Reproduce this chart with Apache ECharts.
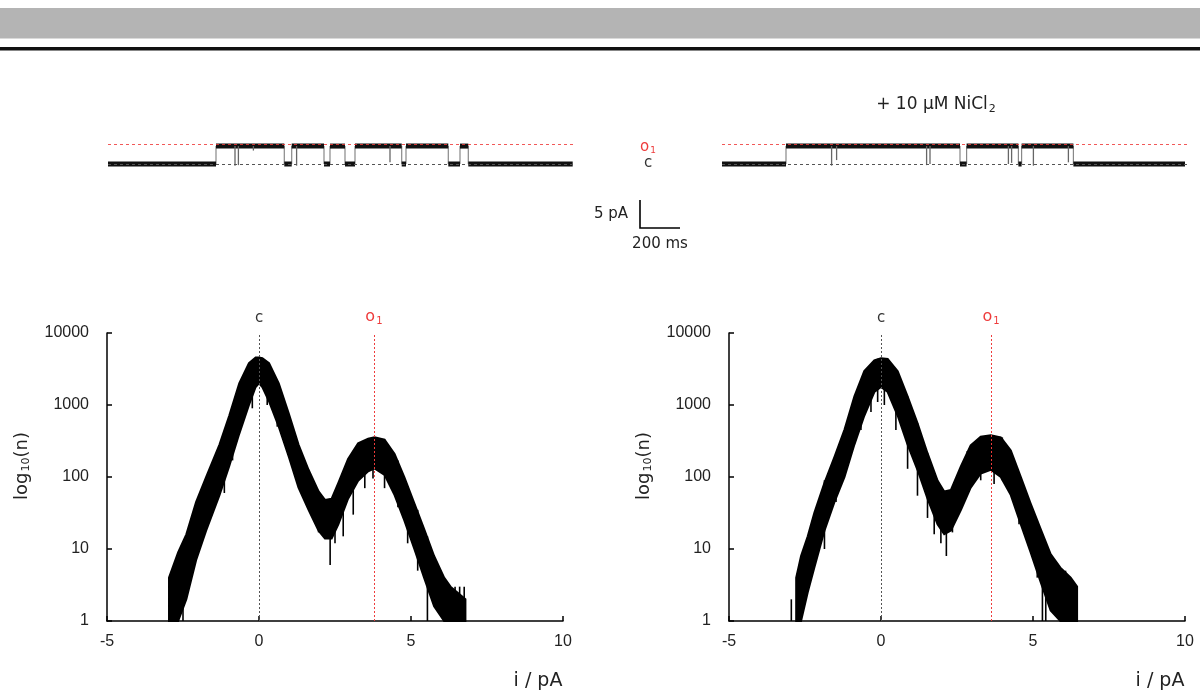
<!DOCTYPE html>
<html><head><meta charset="utf-8">
<script src="https://cdn.jsdelivr.net/npm/echarts@6/dist/echarts.min.js"></script>
<style>html,body{margin:0;padding:0;background:#fff}#c{width:1200px;height:695px}</style>
</head><body><div id="c"></div>
<script>
// ---------- data: single-channel traces (ms, pA) ----------
const CLOSED = 0, OPEN = 3.2, O1_LEVEL_TRACE = 3.45;
const leftTraceTimes  = [0, 540, 881.5, 918.5, 1080, 1110, 1185, 1235, 1468.5, 1490, 1701.5, 1760, 1801.5, 2323.5];
const rightTraceTimes = [0, 320, 1190, 1223, 1482, 1498, 1757, 2315];
const leftFlickers  = [[635, -0.3], [652, -0.2], [727, 2.4], [943, -0.3], [1410, 0.3]];
const rightFlickers = [[548, -0.3], [573, 0.7], [1023, -0.2], [1040, 0], [1432, 0], [1448, 0.2], [1557, -0.3], [1732, 0.3]];

// ---------- data: all-points histograms (i / pA, counts) ----------
const leftI     = [-2.96, -2.66, -2.39, -2.07, -1.74, -1.30, -0.98, -0.65, -0.33, -0.11, 0, 0.11, 0.33, 0.65, 0.98, 1.30, 1.63, 1.96, 2.17, 2.39, 2.61, 2.93, 3.26, 3.59, 3.80, 4.13, 4.46, 4.78, 5.11, 5.43, 5.76, 6.09, 6.30, 6.79];
const leftUpper = [4, 9, 16, 45, 100, 282, 708, 1995, 3802, 4571, 4571, 4467, 3802, 1995, 759, 282, 126, 63, 48, 50, 83, 178, 295, 339, 355, 331, 209, 100, 43, 19, 8, 4, 3, 2];
const leftLower = [1, 1, 2, 7, 18, 56, 141, 398, 1000, 1778, 1995, 1778, 1122, 501, 191, 71, 35, 18, 14, 14, 22, 50, 89, 120, 132, 107, 56, 25, 10, 4, 1.6, 1, 1, 1];
const leftSpikes = [[-2.85, 5, 1], [-2.5, 12, 1], [-1.63, 80, 25], [-1.14, 350, 60], [-0.87, 800, 170], [-0.33, 3500, 1100], [-0.22, 4000, 900], [0.27, 3900, 1000], [0.60, 2000, 500], [0.87, 900, 300], [1.20, 350, 100], [1.74, 100, 35], [1.96, 63, 17], [2.34, 48, 6], [2.50, 50, 12], [2.77, 100, 15], [3.10, 220, 30], [3.48, 320, 70], [3.75, 355, 95], [4.13, 331, 70], [4.57, 170, 38], [4.89, 75, 12], [5.22, 35, 5], [5.54, 15, 1], [6.45, 3, 1], [6.60, 3, 1], [6.75, 3, 1]];

const rightI     = [-2.79, -2.63, -2.41, -2.19, -1.86, -1.53, -1.20, -0.875, -0.55, -0.22, 0, 0.22, 0.55, 0.875, 1.2, 1.53, 1.86, 2.08, 2.3, 2.63, 2.95, 3.28, 3.61, 3.94, 4.27, 4.6, 4.92, 5.25, 5.58, 5.9, 6.24, 6.45];
const rightUpper = [4, 8, 15, 32, 83, 191, 457, 1318, 2951, 4169, 4467, 4365, 2951, 1318, 562, 214, 89, 63, 66, 141, 275, 363, 380, 355, 234, 100, 43, 19, 8.5, 5.5, 4, 3];
const rightLower = [1, 1, 2.5, 5.6, 18, 45, 100, 282, 708, 1514, 1778, 1514, 708, 282, 126, 50, 22, 16, 18, 35, 71, 112, 126, 100, 56, 22, 9, 3.5, 1.4, 1, 1, 1];
const rightSpikes = [[-2.95, 2, 1], [-1.86, 90, 10], [-1.48, 200, 45], [-0.66, 2200, 450], [-0.33, 3600, 800], [-0.11, 4400, 1100], [0.11, 4400, 1000], [0.49, 3000, 450], [0.875, 1318, 130], [1.2, 562, 55], [1.53, 214, 27], [1.75, 110, 16], [1.97, 70, 12], [2.15, 63, 8], [2.35, 66, 17], [2.84, 230, 60], [3.28, 363, 90], [3.72, 380, 80], [3.99, 355, 90], [4.54, 110, 22], [4.81, 55, 13], [5.14, 25, 4], [5.31, 16, 1], [5.42, 12, 1], [6.07, 5, 1]];

const C_LEVEL = 0, O1_LEFT = 3.78, O1_RIGHT = 3.62;
const xTicks = [-5, 0, 5, 10];
const yTicks = [1, 10, 100, 1000, 10000];

// ---------- helpers ----------
const RED = '#ee3b3b';
function segmentsFrom(times) {
  const s = [];
  for (let i = 0; i < times.length - 1; i++) s.push([times[i], times[i + 1], i % 2 === 0 ? CLOSED : OPEN]);
  return s;
}
function transitionsFrom(times) {
  return times.slice(1, -1).map(t => [t, CLOSED, OPEN]);
}
function segSeries(gi, data, color, width, z) {
  return {
    type: 'custom', xAxisIndex: gi, yAxisIndex: gi, data: data, silent: true, z: z,
    encode: { x: [0, 1], y: 2 },
    renderItem(p, api) {
      const a = api.coord([api.value(0), api.value(2)]);
      const b = api.coord([api.value(1), api.value(2)]);
      return { type: 'line', shape: { x1: a[0], y1: a[1], x2: b[0], y2: b[1] }, style: { stroke: color, lineWidth: width } };
    }
  };
}
function vertSeries(gi, data, color, width, z) {
  return {
    type: 'custom', xAxisIndex: gi, yAxisIndex: gi, data: data, silent: true, z: z,
    encode: { x: 0, y: [1, 2] },
    renderItem(p, api) {
      const a = api.coord([api.value(0), api.value(1)]);
      const b = api.coord([api.value(0), api.value(2)]);
      return { type: 'line', shape: { x1: a[0], y1: a[1], x2: b[0], y2: b[1] }, style: { stroke: color, lineWidth: width } };
    }
  };
}
function bandSeries(gi, xs, up, lo) {
  return {
    type: 'custom', xAxisIndex: gi, yAxisIndex: gi, silent: true, z: 3,
    data: [[xs[0], up[0]]],
    renderItem(p, api) {
      const pts = [];
      for (let i = 0; i < xs.length; i++) pts.push(api.coord([xs[i], up[i]]));
      for (let i = xs.length - 1; i >= 0; i--) pts.push(api.coord([xs[i], lo[i]]));
      return { type: 'polygon', shape: { points: pts }, style: { fill: '#000', stroke: '#000', lineWidth: 2, lineJoin: 'miter' } };
    }
  };
}
function traceLines(gi) {
  return {
    type: 'line', xAxisIndex: gi, yAxisIndex: gi, data: [[0, CLOSED]], symbol: 'none',
    lineStyle: { opacity: 0 }, silent: true, z: 6,
    markLine: {
      silent: true, symbol: 'none', animation: false, label: { show: false },
      data: [
        { yAxis: CLOSED, lineStyle: { color: '#555', type: [3, 3], width: 1 } },
        { yAxis: O1_LEVEL_TRACE, lineStyle: { color: RED, type: [3, 3], width: 1, opacity: 0.85 } }
      ]
    }
  };
}
function histLines(gi, o1) {
  return {
    type: 'line', xAxisIndex: gi, yAxisIndex: gi, data: [[-5, 1]], symbol: 'none',
    lineStyle: { opacity: 0 }, silent: true, z: 6,
    markLine: {
      silent: true, symbol: 'none', animation: false,
      label: { show: true, position: 'end', distance: 7, fontFamily: 'DejaVu Sans', fontSize: 15 },
      data: [
        { xAxis: C_LEVEL, lineStyle: { color: '#555', type: [2, 2], width: 1 }, label: { formatter: 'c', color: '#333' } },
        { xAxis: o1, lineStyle: { color: RED, type: [2, 2], width: 1 },
          label: { formatter: '{o|o}{s|1}', color: RED, rich: { o: { fontSize: 16, color: RED, fontFamily: 'DejaVu Sans' }, s: { fontSize: 10, color: RED, padding: [8, 0, 0, 1], fontFamily: 'DejaVu Sans' } } } }
      ]
    }
  };
}
function histX(gi) {
  return {
    gridIndex: gi, type: 'value', min: xTicks[0], max: xTicks[xTicks.length - 1], interval: 5,
    axisLine: { show: true, onZero: false, lineStyle: { color: '#000', width: 1.5 } },
    axisTick: { show: true, inside: true, length: 5, lineStyle: { color: '#000', width: 1.5 } },
    axisLabel: { color: '#222', fontSize: 16, fontFamily: 'Liberation Sans', margin: 13 },
    splitLine: { show: false }
  };
}
function histY(gi) {
  return {
    gridIndex: gi, type: 'log', logBase: 10, min: yTicks[0], max: yTicks[yTicks.length - 1],
    axisLine: { show: true, onZero: false, lineStyle: { color: '#000', width: 1.5 } },
    axisTick: { show: true, inside: true, length: 5, lineStyle: { color: '#000', width: 1.5 } },
    axisLabel: { color: '#222', fontSize: 16, fontFamily: 'Liberation Sans', margin: 18, formatter: v => String(Math.round(v)) },
    splitLine: { show: false }, minorTick: { show: false }
  };
}
function traceX(gi, max) { return { gridIndex: gi, type: 'value', min: 0, max: max, show: false }; }
function traceY(gi) { return { gridIndex: gi, type: 'value', min: -2, max: 6, show: false }; }

const subRich = (big, small, color) => ({
  a: { fontSize: big, fill: color, fontFamily: 'DejaVu Sans' },
  s: { fontSize: small, fill: color, fontFamily: 'DejaVu Sans', padding: [Math.round(big * 0.5), 0, 0, 1] }
});

const chart = echarts.init(document.getElementById('c'));
chart.setOption({
  animation: false,
  backgroundColor: '#fff',
  grid: [
    { left: 108, top: 130.4, width: 465, height: 44.8 },
    { left: 722, top: 130.4, width: 465, height: 44.8 },
    { left: 107, top: 333, width: 456, height: 288 },
    { left: 729, top: 333, width: 456, height: 288 }
  ],
  xAxis: [traceX(0, 2325), traceX(1, 2325), histX(2), histX(3)],
  yAxis: [traceY(0), traceY(1), histY(2), histY(3)],
  series: [
    traceLines(0), traceLines(1),
    segSeries(0, segmentsFrom(leftTraceTimes), '#111', 5, 3),
    segSeries(1, segmentsFrom(rightTraceTimes), '#111', 5, 3),
    vertSeries(0, transitionsFrom(leftTraceTimes), '#888', 1.2, 2),
    vertSeries(1, transitionsFrom(rightTraceTimes), '#888', 1.2, 2),
    vertSeries(0, leftFlickers.map(f => [f[0], OPEN, f[1]]), '#666', 1.3, 4),
    vertSeries(1, rightFlickers.map(f => [f[0], OPEN, f[1]]), '#666', 1.3, 4),
    bandSeries(2, leftI, leftUpper, leftLower),
    bandSeries(3, rightI, rightUpper, rightLower),
    vertSeries(2, leftSpikes, '#000', 1.6, 4),
    vertSeries(3, rightSpikes, '#000', 1.6, 4),
    histLines(2, O1_LEFT), histLines(3, O1_RIGHT)
  ],
  graphic: [
    { type: 'rect', shape: { x: 0, y: 8, width: 1200, height: 30.5 }, style: { fill: '#b4b4b4' }, silent: true },
    { type: 'rect', shape: { x: 0, y: 47, width: 1200, height: 3.5 }, style: { fill: '#111' }, silent: true },
    { type: 'text', x: 936, y: 105, silent: true,
      style: { text: '{a|+ 10 µM NiCl}{s|2}', rich: subRich(17, 11, '#222'), align: 'center', verticalAlign: 'middle' } },
    { type: 'text', x: 648, y: 147, silent: true,
      style: { text: '{a|o}{s|1}', rich: subRich(15, 9, RED), align: 'center', verticalAlign: 'middle' } },
    { type: 'text', x: 648, y: 163, silent: true,
      style: { text: 'c', fill: '#333', fontSize: 15, fontFamily: 'DejaVu Sans', align: 'center', verticalAlign: 'middle' } },
    { type: 'polyline', silent: true, shape: { points: [[640, 200], [640, 228], [680, 228]] }, style: { stroke: '#000', lineWidth: 1.6, fill: null } },
    { type: 'text', x: 628, y: 214, silent: true,
      style: { text: '5 pA', fill: '#222', fontSize: 15, fontFamily: 'DejaVu Sans', align: 'right', verticalAlign: 'middle' } },
    { type: 'text', x: 660, y: 244, silent: true,
      style: { text: '200 ms', fill: '#222', fontSize: 15, fontFamily: 'DejaVu Sans', align: 'center', verticalAlign: 'middle' } },
    { type: 'text', x: 538, y: 681, silent: true,
      style: { text: 'i / pA', fill: '#222', fontSize: 19, fontFamily: 'DejaVu Sans', align: 'center', verticalAlign: 'middle' } },
    { type: 'text', x: 1160, y: 681, silent: true,
      style: { text: 'i / pA', fill: '#222', fontSize: 19, fontFamily: 'DejaVu Sans', align: 'center', verticalAlign: 'middle' } },
    { type: 'text', x: 22, y: 466, rotation: Math.PI / 2, silent: true,
      style: { text: '{a|log}{s|10}{a|(n)}', rich: subRich(18, 11, '#222'), align: 'center', verticalAlign: 'middle' } },
    { type: 'text', x: 644, y: 466, rotation: Math.PI / 2, silent: true,
      style: { text: '{a|log}{s|10}{a|(n)}', rich: subRich(18, 11, '#222'), align: 'center', verticalAlign: 'middle' } }
  ]
});
</script></body></html>
